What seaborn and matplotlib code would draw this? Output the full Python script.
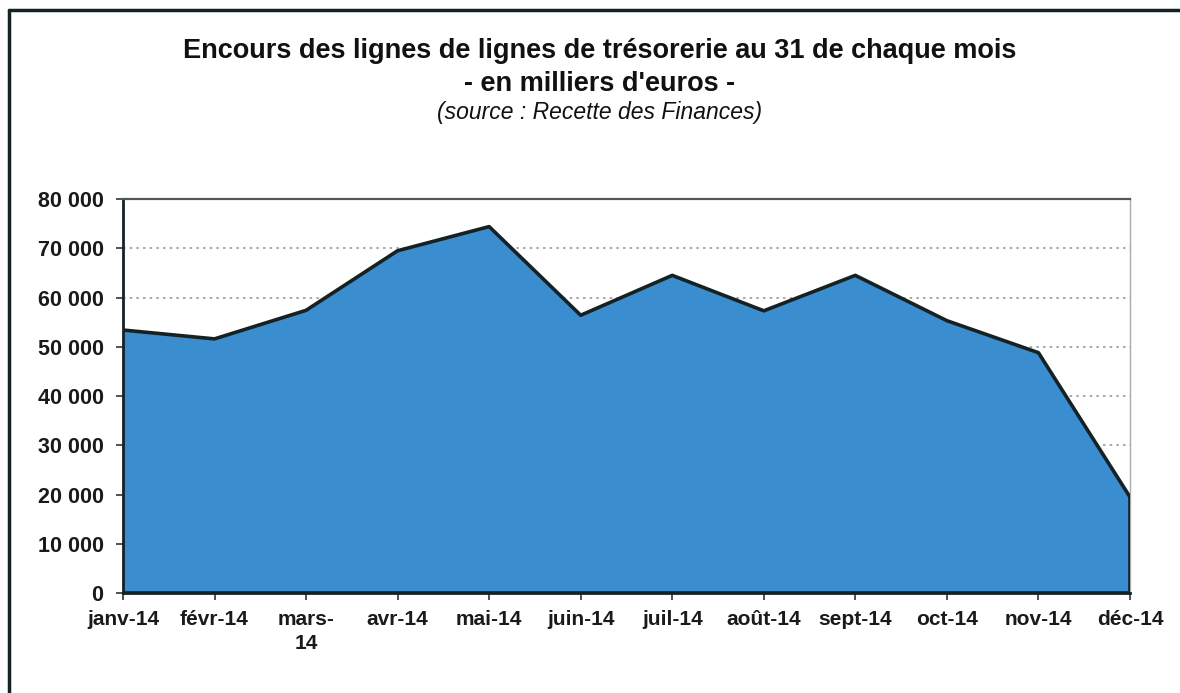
import matplotlib
matplotlib.use("Agg")
import matplotlib.pyplot as plt
import seaborn as sns
import pandas as pd
from matplotlib.lines import Line2D

# --- données ---
mois = ["janv-14", "févr-14", "mars-\n14", "avr-14", "mai-14", "juin-14",
        "juil-14", "août-14", "sept-14", "oct-14", "nov-14", "déc-14"]
encours = [53400, 51600, 57400, 69500, 74400, 56400,
           64500, 57300, 64500, 55300, 48800, 19500]
y_ticks = [0, 10000, 20000, 30000, 40000, 50000, 60000, 70000, 80000]

df = pd.DataFrame({"pos": range(len(mois)), "encours": encours})

sns.set_style("white")
plt.rcParams["font.family"] = ["Liberation Sans", "DejaVu Sans"]

fig = plt.figure(figsize=(11.8, 6.93), dpi=100)
ax = fig.add_axes([0.1042, 0.1443, 0.8534, 0.5685])

# grille pointillée
for v in y_ticks[1:-1]:
    ax.axhline(v, color="#9a9a9a", linestyle=(0, (1.5, 2.5)), linewidth=1.2, zorder=0)

ax.fill_between(df["pos"], df["encours"], 0, color="#3a8dcf", zorder=1)
sns.lineplot(data=df, x="pos", y="encours", color="#142226", linewidth=2.6, ax=ax, zorder=3)
ax.axhline(0, color="#142226", linewidth=2.6, zorder=3)
ax.plot([11, 11], [0, encours[-1]], color="#142226", linewidth=2.6, zorder=3)

ax.set_xlim(0, 11)
ax.set_ylim(0, 80000)
ax.set_xticks(df["pos"])
ax.set_xticklabels(mois, fontsize=15, fontweight="bold", color="#1a1a1a", linespacing=1.35)
ax.set_yticks(y_ticks)
ax.set_yticklabels([f"{v:,}".replace(",", " ") for v in y_ticks],
                   fontsize=15.5, fontweight="bold", color="#1a1a1a")
ax.set_xlabel("")
ax.set_ylabel("")

ax.tick_params(axis="both", which="both", direction="out", length=5, width=1.2,
               color="#333333", bottom=True, left=True)
ax.tick_params(axis="x", pad=7)
ax.tick_params(axis="y", pad=9)

for side in ["left", "bottom"]:
    ax.spines[side].set_color("#142226")
    ax.spines[side].set_linewidth(2)
ax.spines["top"].set_color("#555555")
ax.spines["top"].set_linewidth(1.6)
ax.spines["right"].set_color("#aaaaaa")
ax.spines["right"].set_linewidth(1)

# titres
fig.text(0.508, 0.927, "Encours des lignes de lignes de trésorerie au 31 de chaque mois",
         ha="center", va="center", fontsize=19.5, fontweight="bold", color="#111111")
fig.text(0.508, 0.879, "- en milliers d'euros -",
         ha="center", va="center", fontsize=19.5, fontweight="bold", color="#111111")
fig.text(0.508, 0.838, "(source : Recette des Finances)",
         ha="center", va="center", fontsize=16.5, fontstyle="italic", color="#111111")

# cadre extérieur
fig.add_artist(Line2D([0.0075, 0.0075], [0.0, 0.985], transform=fig.transFigure,
                      color="#142226", linewidth=2.5))
fig.add_artist(Line2D([0.0075, 1.0], [0.985, 0.985], transform=fig.transFigure,
                      color="#142226", linewidth=2.5))

fig.savefig("out.png", dpi=100)
